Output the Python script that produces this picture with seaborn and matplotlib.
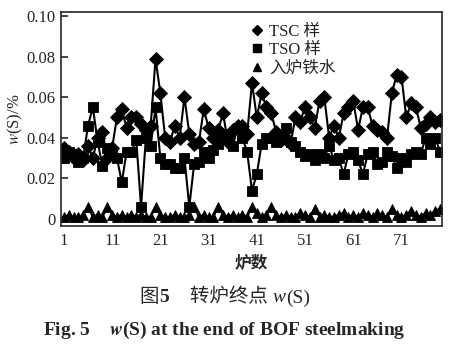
import matplotlib
matplotlib.use("Agg")
import matplotlib.pyplot as plt
import seaborn as sns
import numpy as np
import pandas as pd
from matplotlib.lines import Line2D
from matplotlib.offsetbox import TextArea, HPacker, AnchoredOffsetbox

heats = list(range(1, 80))
tsc = [0.035, 0.033, 0.030, 0.032, 0.029, 0.036, 0.030, 0.040, 0.043, 0.030,
       0.035, 0.050, 0.054, 0.045, 0.050, 0.050, 0.047, 0.044, 0.046, 0.079,
       0.062, 0.040, 0.038, 0.046, 0.040, 0.060, 0.042, 0.037, 0.038, 0.054,
       0.045, 0.040, 0.044, 0.052, 0.038, 0.044, 0.046, 0.046, 0.042, 0.067,
       0.050, 0.062, 0.055, 0.052, 0.043, 0.039, 0.040, 0.037, 0.050, 0.048,
       0.055, 0.050, 0.045, 0.058, 0.060, 0.040, 0.046, 0.040, 0.052, 0.055,
       0.058, 0.044, 0.055, 0.055, 0.046, 0.044, 0.043, 0.040, 0.062, 0.071,
       0.070, 0.050, 0.057, 0.055, 0.045, 0.047, 0.050, 0.048, 0.049]
tso = [0.030, 0.033, 0.032, 0.028, 0.030, 0.046, 0.055, 0.038, 0.026, 0.035,
       0.033, 0.030, 0.018, 0.033, 0.033, 0.039, 0.006, 0.040, 0.036, 0.055,
       0.030, 0.027, 0.027, 0.025, 0.025, 0.030, 0.006, 0.027, 0.028, 0.033,
       0.030, 0.034, 0.037, 0.040, 0.042, 0.036, 0.045, 0.040, 0.033, 0.014,
       0.022, 0.037, 0.040, 0.040, 0.038, 0.040, 0.045, 0.038, 0.036, 0.033,
       0.031, 0.032, 0.029, 0.032, 0.030, 0.036, 0.029, 0.030, 0.022, 0.032,
       0.033, 0.029, 0.022, 0.032, 0.033, 0.027, 0.028, 0.033, 0.031, 0.025,
       0.030, 0.028, 0.032, 0.033, 0.032, 0.040, 0.037, 0.040, 0.033]
iron = [0.001, 0.002, 0.001, 0.001, 0.002, 0.006, 0.001, 0.002, 0.001, 0.006,
        0.002, 0.001, 0.002, 0.001, 0.002, 0.001, 0.002, 0.001, 0.001, 0.006,
        0.002, 0.001, 0.001, 0.002, 0.001, 0.001, 0.002, 0.006, 0.001, 0.002,
        0.001, 0.001, 0.006, 0.002, 0.001, 0.002, 0.001, 0.002, 0.001, 0.006,
        0.003, 0.001, 0.002, 0.006, 0.002, 0.001, 0.002, 0.001, 0.001, 0.003,
        0.002, 0.001, 0.005, 0.001, 0.002, 0.001, 0.001, 0.002, 0.003, 0.001,
        0.002, 0.001, 0.003, 0.002, 0.001, 0.003, 0.002, 0.001, 0.005, 0.002,
        0.001, 0.002, 0.004, 0.002, 0.001, 0.003, 0.002, 0.004, 0.005]
labels = ["TSC 样", "TSO 样", "入炉铁水"]
xticks = [1, 11, 21, 31, 41, 51, 61, 71]
yticks = [0, 0.02, 0.04, 0.06, 0.08, 0.10]
yticklabels = ["0", "0.02", "0.04", "0.06", "0.08", "0.10"]

sns.set_style("ticks")
plt.rcParams['font.family'] = ['Liberation Serif', 'Noto Sans CJK SC', 'DejaVu Sans']
plt.rcParams['mathtext.fontset'] = 'stix'

fig = plt.figure(figsize=(4.49, 3.47), dpi=100)
ax = fig.add_axes([61/449, 1 - 226/347, (442 - 61)/449, (226 - 12)/347])

df = pd.DataFrame({"heat": heats * 3,
                   "w": tsc + tso + iron,
                   "series": [labels[0]] * len(heats) + [labels[1]] * len(heats) + [labels[2]] * len(heats)})

sns.lineplot(data=df, x="heat", y="w", hue="series", style="series",
             markers={labels[0]: "D", labels[1]: "s", labels[2]: "^"},
             dashes=False, palette=["black"] * 3, ax=ax,
             markersize=7.5, linewidth=1.5, markeredgecolor="black",
             markeredgewidth=0.6, legend=False)

ax.set_xlim(0.4, 79.4)
ax.set_ylim(-0.0035, 0.102)
ax.set_xticks(xticks)
ax.set_xticklabels([str(t) for t in xticks], fontsize=12)
ax.set_yticks(yticks)
ax.set_yticklabels(yticklabels, fontsize=12)
ax.tick_params(axis='y', direction='in', length=5, width=1.2, pad=4)
ax.tick_params(axis='x', direction='in', length=0, pad=5)
for s in ax.spines.values():
    s.set_linewidth(1.2)
    s.set_visible(True)

ax.set_xlabel("炉数", fontsize=12, fontweight='bold', labelpad=5)
ax.set_ylabel("$w$(S)/%", fontsize=12, labelpad=1)

handles = [Line2D([], [], color='black', marker='D', linestyle='none', markersize=5.5),
           Line2D([], [], color='black', marker='s', linestyle='none', markersize=5.5),
           Line2D([], [], color='black', marker='^', linestyle='none', markersize=5.5)]
ax.legend(handles, labels, loc='upper right', bbox_to_anchor=(0.76, 1.015),
          frameon=False, fontsize=12, handletextpad=0.2, labelspacing=0.15,
          handlelength=1.0)

cap = [TextArea("图", textprops=dict(fontsize=14, family=['Noto Sans CJK SC'])),
       TextArea("5", textprops=dict(fontsize=14, fontweight='bold')),
       TextArea("     转炉终点 ", textprops=dict(fontsize=14, family=['Noto Sans CJK SC'])),
       TextArea("w", textprops=dict(fontsize=14, style='italic')),
       TextArea("(S)", textprops=dict(fontsize=14))]
box = HPacker(children=cap, align="baseline", pad=0, sep=0)
ab = AnchoredOffsetbox(loc='center', child=box, frameon=False,
                       bbox_to_anchor=(0.5, 1 - 297/347), bbox_transform=fig.transFigure,
                       borderpad=0, pad=0)
fig.add_artist(ab)

fig.text(0.5, 1 - 330/347, "Fig. 5    $\\boldsymbol{w}$(S) at the end of BOF steelmaking",
         ha='center', va='center', fontsize=14, fontweight='bold')

fig.savefig("out.png", dpi=100)
